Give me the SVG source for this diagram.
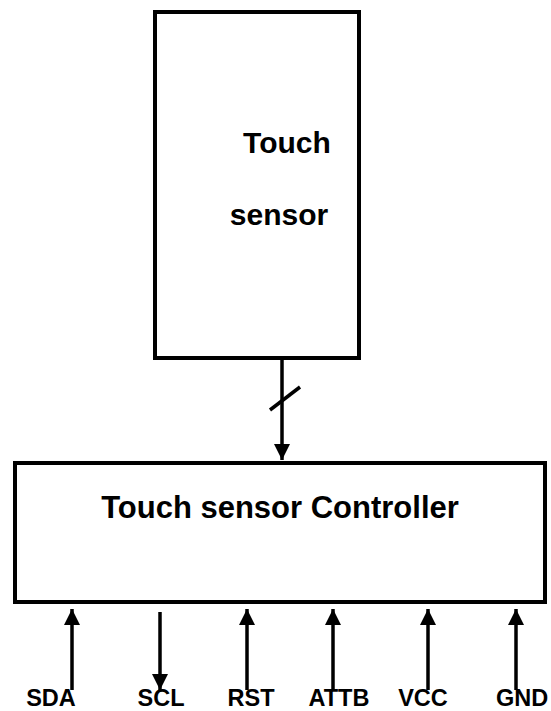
<svg xmlns="http://www.w3.org/2000/svg" width="551" height="711" viewBox="0 0 551 711">
<style>
.box{fill:#fff;stroke:#000;stroke-width:4}
.ln{stroke:#000;stroke-width:3.5;fill:none}
.t{font-family:"Liberation Sans",Arial,sans-serif;font-weight:bold;fill:#000;text-anchor:middle}
</style>
<defs>
<marker id="ah" viewBox="0 0 10 10" refX="10" refY="5" markerWidth="4.8" markerHeight="4.6" markerUnits="strokeWidth" orient="auto">
<path d="M0,0 L10,5 L0,10 z" fill="#000"/>
</marker>
</defs>
<rect width="551" height="711" fill="#fff"/>
<g id="touch-sensor">
<rect class="box" x="155" y="12" width="204" height="346"/>
<text class="t" x="287" y="153" font-size="30">Touch</text>
<text class="t" x="279" y="225" font-size="30">sensor</text>
</g>
<g id="controller">
<rect class="box" x="15" y="463" width="530" height="139"/>
<text class="t" x="280" y="518" font-size="31">Touch sensor Controller</text>
</g>
<g id="connectors">
<line class="ln" x1="282" y1="359" x2="282" y2="460" stroke-width="4" marker-end="url(#ah)"/>
<line class="ln" x1="270" y1="410" x2="300" y2="387" stroke-width="4"/>
<line class="ln" x1="72" y1="690" x2="72" y2="609" marker-end="url(#ah)"/>
<line class="ln" x1="160" y1="612" x2="160" y2="690" marker-end="url(#ah)"/>
<line class="ln" x1="247" y1="690" x2="247" y2="609" marker-end="url(#ah)"/>
<line class="ln" x1="333" y1="690" x2="333" y2="609" marker-end="url(#ah)"/>
<line class="ln" x1="428" y1="690" x2="428" y2="609" marker-end="url(#ah)"/>
<line class="ln" x1="516" y1="690" x2="516" y2="609" marker-end="url(#ah)"/>
</g>
<g id="labels">
<text class="t" x="51" y="706" font-size="23.5">SDA</text>
<text class="t" x="161" y="706" font-size="23.5">SCL</text>
<text class="t" x="251" y="706" font-size="23.5">RST</text>
<text class="t" x="339" y="706" font-size="23.5">ATTB</text>
<text class="t" x="423" y="706" font-size="23.5">VCC</text>
<text class="t" x="522" y="706" font-size="23.5">GND</text>
</g>
</svg>
